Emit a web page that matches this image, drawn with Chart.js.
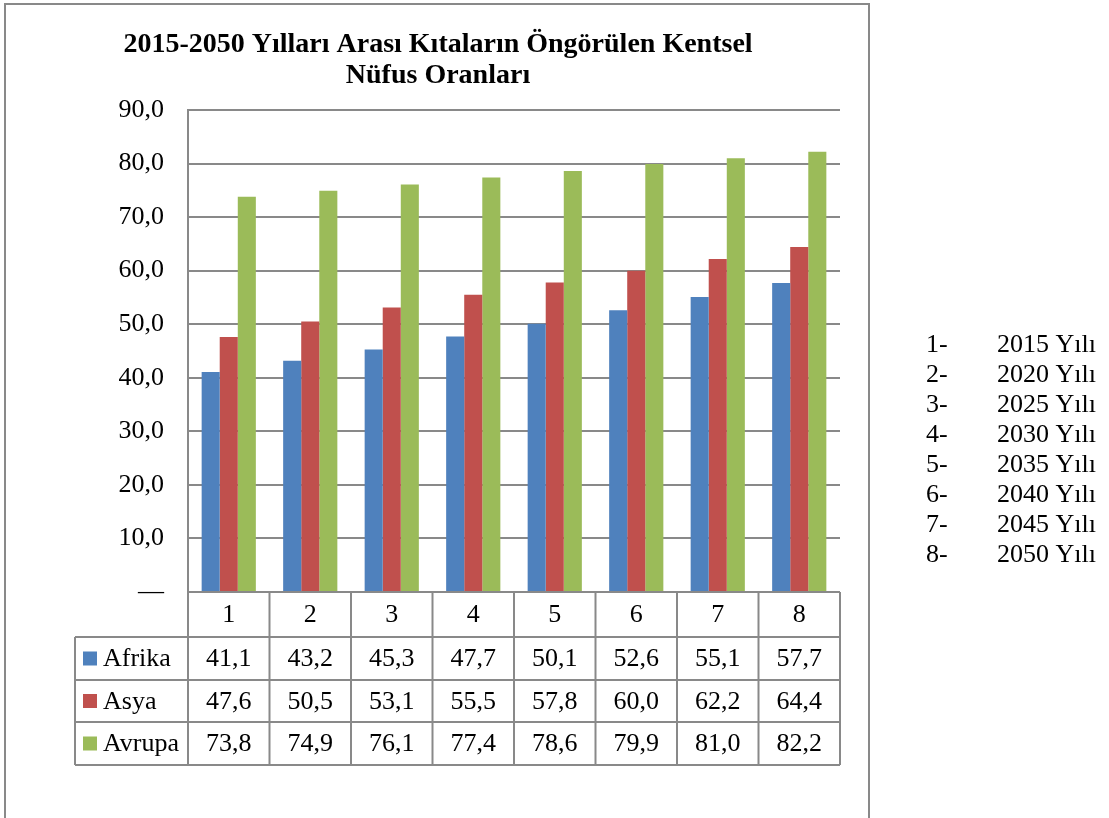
<!DOCTYPE html>
<html><head><meta charset="utf-8">
<script src="https://cdn.jsdelivr.net/npm/chart.js@4.4.1/dist/chart.umd.min.js"></script>
<style>html,body{margin:0;padding:0;background:#fff;}#wrap{width:1109px;height:818px;position:relative;}</style>
</head><body><div id="wrap"><canvas id="c" width="1109" height="818"></canvas></div>
<script>
const categories = ['1','2','3','4','5','6','7','8'];
const seriesNames = ['Afrika','Asya','Avrupa'];
const afrika = [41.1,43.2,45.3,47.7,50.1,52.6,55.1,57.7];
const asya = [47.6,50.5,53.1,55.5,57.8,60.0,62.2,64.4];
const avrupa = [73.8,74.9,76.1,77.4,78.6,79.9,81.0,82.2];
const yearNotes = ['2015 Yılı','2020 Yılı','2025 Yılı','2030 Yılı','2035 Yılı','2040 Yılı','2045 Yılı','2050 Yılı'];
const titleLines = ['2015-2050 Yılları Arası Kıtaların Öngörülen Kentsel','Nüfus Oranları'];
const colors = ['#4F81BD','#C0504D','#9BBB59'];
const FONT = '"Liberation Serif","Times New Roman",serif';
const GRID = '#898989';
const fmt = v => v.toFixed(1).replace('.', ',');

const extras = {
  id: 'extras',
  beforeDraw(chart) {
    const ctx = chart.ctx;
    ctx.save();
    ctx.fillStyle = '#fff';
    ctx.fillRect(0,0,chart.width,chart.height);
    ctx.strokeStyle = GRID; ctx.lineWidth = 2;
    ctx.beginPath();
    ctx.moveTo(5, 830); ctx.lineTo(5, 4); ctx.lineTo(869, 4); ctx.lineTo(869, 830);
    ctx.stroke();
    ctx.restore();
  },
  afterDraw(chart) {
    const ctx = chart.ctx;
    const x = chart.scales.x, y = chart.scales.y;
    ctx.save();
    // title
    ctx.fillStyle = '#000';
    ctx.font = 'bold 28px ' + FONT;
    ctx.textAlign = 'center'; ctx.textBaseline = 'middle';
    ctx.fillText(titleLines[0], 438, 45);
    ctx.fillText(titleLines[1], 438, 76);
    // table
    const top = y.getPixelForValue(0);
    const rowH = [45, 43, 42, 43];
    const rows = [top];
    rowH.forEach(h => rows.push(rows[rows.length-1] + h));
    const n = categories.length;
    const half = (x.getPixelForValue(1) - x.getPixelForValue(0)) / 2;
    const bounds = [];
    for (let i = 0; i < n; i++) bounds.push(x.getPixelForValue(i) - half);
    bounds.push(x.getPixelForValue(n-1) + half);
    const leftX = 75;
    ctx.strokeStyle = GRID; ctx.lineWidth = 2;
    ctx.beginPath();
    ctx.moveTo(bounds[0], rows[0]); ctx.lineTo(bounds[n], rows[0]);
    for (let r = 1; r < rows.length; r++) { ctx.moveTo(leftX, rows[r]); ctx.lineTo(bounds[n], rows[r]); }
    for (let i = 0; i <= n; i++) { ctx.moveTo(bounds[i], rows[0]); ctx.lineTo(bounds[i], rows[rows.length-1]); }
    ctx.moveTo(leftX, rows[1]); ctx.lineTo(leftX, rows[rows.length-1]);
    ctx.stroke();
    ctx.font = '26px ' + FONT;
    ctx.fillStyle = '#000';
    ctx.textAlign = 'center'; ctx.textBaseline = 'middle';
    for (let i = 0; i < n; i++) {
      const cx = x.getPixelForValue(i);
      ctx.fillText(categories[i], cx, (rows[0]+rows[1])/2 + 1);
      chart.data.datasets.forEach((ds, d) => {
        ctx.fillText(fmt(ds.data[i]), cx, (rows[d+1]+rows[d+2])/2 + 1);
      });
    }
    ctx.textAlign = 'left';
    chart.data.datasets.forEach((ds, d) => {
      const cy = (rows[d+1]+rows[d+2])/2;
      ctx.fillStyle = colors[d];
      ctx.fillRect(83, cy - 7, 14, 14);
      ctx.fillStyle = '#000';
      ctx.fillText(ds.label, 103, cy + 1);
    });
    // notes on right
    ctx.font = '26px ' + FONT;
    yearNotes.forEach((t, i) => {
      const cy = 345 + i * 30;
      ctx.fillText((i+1) + '-', 926, cy);
      ctx.fillText(t, 997, cy);
    });
    ctx.restore();
  }
};

new Chart(document.getElementById('c'), {
  type: 'bar',
  data: {
    labels: categories,
    datasets: [
      { label: seriesNames[0], data: afrika, backgroundColor: colors[0] },
      { label: seriesNames[1], data: asya, backgroundColor: colors[1] },
      { label: seriesNames[2], data: avrupa, backgroundColor: colors[2] }
    ]
  },
  options: {
    responsive: false,
    animation: false,
    events: [],
    layout: { padding: { left: 0, right: 269, top: 110, bottom: 226 } },
    datasets: { bar: { categoryPercentage: 0.665, barPercentage: 1.0 } },
    plugins: { legend: { display: false }, title: { display: false }, tooltip: { enabled: false } },
    scales: {
      x: { display: false },
      y: {
        min: 0, max: 90,
        afterFit(s) { s.width = 188; },
        ticks: { stepSize: 10, padding: 24, color: '#000', font: { family: FONT, size: 26 },
          callback: v => v === 0 ? '—' : fmt(v) },
        grid: { color: GRID, lineWidth: 2, drawTicks: false },
        border: { display: true, color: GRID, width: 2 }
      }
    }
  },
  plugins: [extras]
});
</script></body></html>
